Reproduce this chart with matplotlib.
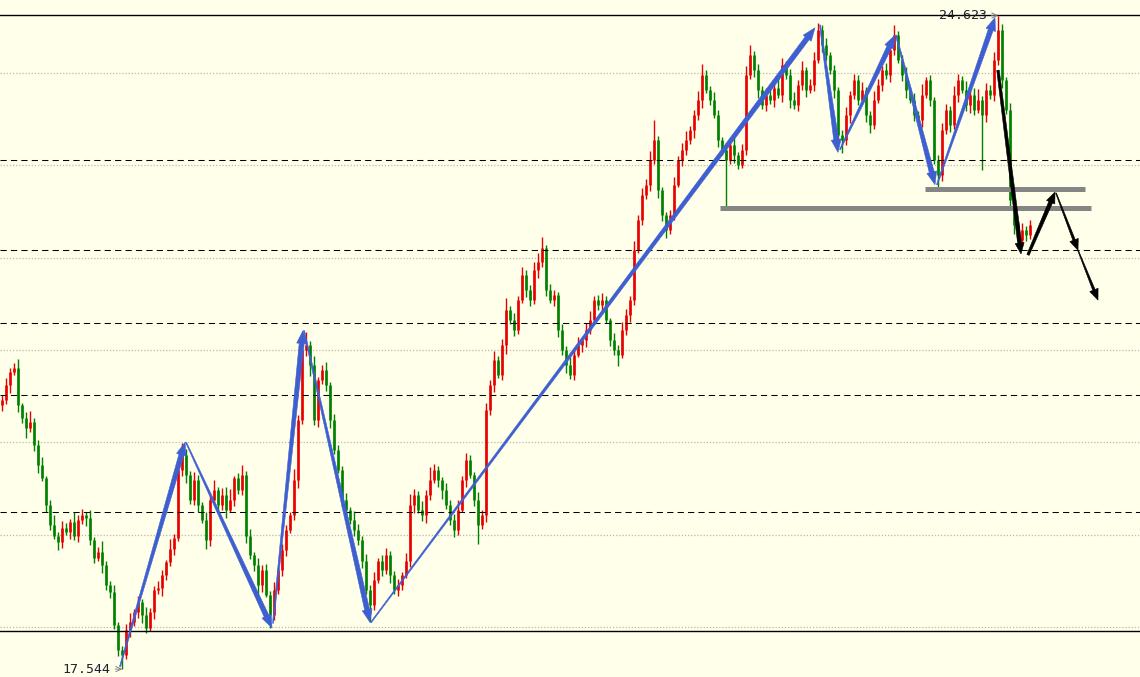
from __future__ import annotations

import matplotlib

matplotlib.use("Agg")
import matplotlib.pyplot as plt
import numpy as np
from matplotlib.patches import Polygon

# close prices, one bar each; open of a bar = previous close
first_open = 20.40
closes = [
    20.46, 20.62, 20.76, 20.80, 20.40, 20.26, 20.15, 20.22, 19.97, 19.75,
    19.61, 19.32, 19.10, 18.99, 18.92, 19.07, 19.03, 19.14, 18.99, 19.16,
    19.21, 19.18, 18.94, 18.75, 18.81, 18.67, 18.45, 18.38, 18.02, 17.75,
    17.70, 17.97, 18.05, 18.16, 18.27, 18.13, 17.99, 18.16, 18.40, 18.42,
    18.56, 18.70, 18.85, 18.96, 19.70, 19.86, 19.65, 19.37, 19.59, 19.32,
    19.16, 18.94, 19.37, 19.48, 19.32, 19.43, 19.27, 19.37, 19.61, 19.48,
    19.65, 18.99, 18.78, 18.67, 18.45, 18.62, 18.35, 18.13, 18.40, 18.62,
    18.83, 19.05, 19.21, 19.59, 20.24, 21.00, 21.05, 20.84, 20.24, 20.67,
    20.78, 20.62, 20.24, 19.92, 19.70, 19.37, 19.27, 19.16, 19.05, 18.94,
    18.72, 18.40, 18.24, 18.51, 18.72, 18.62, 18.78, 18.56, 18.40, 18.45,
    18.56, 18.72, 19.32, 19.43, 19.27, 19.21, 19.43, 19.59, 19.70, 19.59,
    19.48, 19.32, 19.16, 19.05, 19.27, 19.59, 19.81, 19.65, 19.37, 19.10,
    19.21, 20.35, 20.62, 20.89, 20.73, 21.05, 21.43, 21.32, 21.22, 21.54,
    21.81, 21.65, 21.54, 21.87, 21.95, 22.10, 21.65, 21.54, 21.60, 21.22,
    21.00, 20.84, 20.73, 20.95, 21.05, 21.11, 21.22, 21.32, 21.54, 21.49,
    21.54, 21.32, 21.11, 21.00, 20.95, 21.22, 21.38, 21.54, 22.08, 22.41,
    22.68, 22.79, 23.06, 23.27, 22.73, 22.46, 22.30, 22.46, 22.79, 23.06,
    23.17, 23.27, 23.38, 23.54, 23.71, 23.98, 23.82, 23.71, 23.54, 23.27,
    23.17, 23.06, 23.22, 23.11, 23.00, 23.17, 23.98, 24.19, 24.03, 23.82,
    23.65, 23.76, 23.71, 23.84, 23.76, 24.09, 23.98, 23.71, 23.65, 23.87,
    24.03, 23.82, 23.87, 24.14, 24.47, 24.30, 24.19, 24.03, 23.82, 23.33,
    23.27, 23.54, 23.76, 23.92, 23.71, 23.82, 23.54, 23.44, 23.71, 23.87,
    24.03, 23.98, 24.25, 24.41, 24.14, 23.98, 23.82, 23.71, 23.54, 23.49,
    23.76, 23.92, 23.71, 23.06, 22.89, 23.38, 23.60, 23.44, 23.76, 23.92,
    23.82, 23.65, 23.76, 23.60, 23.71, 23.54, 23.82, 23.76, 24.14, 24.47,
    23.92, 23.60, 22.62, 22.35, 22.19, 22.30, 22.25, 22.35,
]
# upper / lower shadow beyond the body, in hundredths
wick_up = [
    5, 8, 4, 6, 10, 3, 7, 12, 4, 6, 9, 3, 5, 11, 4, 8, 6, 3, 10, 5,
    7, 4, 9, 3, 6, 12, 4, 5, 8, 3, 4, 6, 10, 4, 7, 3, 9, 5, 4, 8,
    6, 3, 10, 5, 4, 13, 7, 4, 9, 6, 3, 8, 5, 11, 4, 7, 9, 12, 3, 6,
    10, 4, 7, 3, 8, 5, 6, 4, 9, 3, 7, 5, 4, 12, 6, 8, 14, 5, 10, 4,
    6, 9, 3, 7, 5, 4, 8, 3, 10, 6, 4, 7, 5, 9, 3, 6, 8, 4, 5, 7,
    4, 8, 12, 6, 4, 9, 5, 14, 7, 4, 3, 8, 5, 6, 10, 4, 7, 5, 3, 9,
    6, 8, 5, 10, 4, 7, 13, 5, 8, 4, 9, 6, 5, 8, 10, 12, 4, 7, 5, 3,
    6, 4, 8, 5, 9, 3, 7, 10, 5, 6, 8, 4, 3, 7, 5, 8, 6, 4, 10, 5,
    7, 6, 9, 22, 5, 4, 3, 6, 8, 4, 7, 10, 5, 6, 9, 12, 5, 4, 8, 6,
    4, 7, 5, 9, 3, 6, 10, 11, 5, 7, 4, 8, 6, 5, 9, 7, 4, 6, 8, 5,
    10, 4, 7, 9, 7, 5, 8, 4, 6, 3, 5, 9, 4, 7, 6, 8, 3, 5, 10, 6,
    5, 8, 7, 11, 4, 6, 9, 3, 7, 5, 12, 4, 6, 3, 5, 8, 6, 4, 10, 7,
    5, 9, 6, 8, 12, 4, 7, 5, 9, 15, 6, 4, 8, 3, 5, 7, 4, 6,
]
wick_dn = [
    6, 4, 9, 3, 7, 5, 10, 4, 6, 8, 3, 7, 5, 4, 9, 6, 3, 8, 5, 7,
    4, 9, 5, 6, 3, 8, 5, 7, 4, 6, 16, 5, 8, 4, 6, 9, 5, 3, 7, 4,
    8, 5, 4, 7, 3, 6, 9, 4, 5, 8, 3, 10, 6, 4, 7, 5, 9, 3, 6, 4,
    5, 8, 4, 6, 9, 7, 3, 14, 5, 4, 7, 6, 3, 5, 8, 4, 6, 12, 5, 7,
    4, 6, 8, 5, 3, 7, 9, 4, 6, 5, 8, 4, 19, 6, 3, 7, 5, 8, 4, 6,
    5, 3, 7, 9, 4, 6, 8, 5, 3, 7, 9, 4, 6, 8, 5, 3, 7, 4, 6, 20,
    4, 7, 5, 8, 3, 6, 9, 4, 7, 5, 3, 8, 6, 4, 9, 5, 7, 3, 6, 8,
    5, 9, 4, 6, 3, 7, 8, 5, 4, 6, 9, 3, 7, 5, 12, 4, 6, 8, 5, 3,
    6, 4, 7, 5, 8, 6, 9, 4, 5, 3, 7, 6, 4, 8, 5, 9, 4, 6, 3, 7,
    6, 50, 5, 8, 4, 3, 6, 5, 7, 9, 4, 6, 5, 8, 3, 7, 5, 9, 4, 6,
    5, 8, 4, 6, 3, 7, 5, 4, 9, 6, 14, 5, 8, 4, 6, 3, 7, 9, 5, 4,
    6, 4, 8, 5, 3, 7, 9, 4, 6, 5, 8, 3, 7, 5, 13, 6, 4, 8, 5, 7,
    4, 6, 8, 5, 3, 59, 7, 4, 6, 5, 8, 4, 6, 9, 5, 4, 7, 5,
]

grid_levels = [18, 19, 20, 21, 22, 23, 24]
dashed_levels = [23.06, 22.08, 21.29, 20.51, 19.24]
solid_levels = [24.623, 17.96]

# grey support zone bars: level, first bar, last bar
zone_levels = [22.74, 22.54]
zone_start = [230.75, 179.5]
zone_end = [270.75, 272.25]

# wave arrows as (bar, price) -> (bar, price)
blue_arrows = [
    ((29.5, 17.57), (45.75, 20.00)),
    ((46.0, 20.00), (67.5, 17.99)),
    ((67.75, 18.04), (75.25, 21.21)),
    ((75.5, 21.21), (92.0, 18.05)),
    ((92.25, 18.05), (203.25, 24.49)),
    ((204.5, 24.52), (209.0, 23.14)),
    ((209.5, 23.17), (223.25, 24.41)),
    ((223.5, 24.41), (233.25, 22.79)),
    ((233.75, 22.79), (248.25, 24.60)),
]
black_arrows = [
    ((249.0, 24.03), (254.75, 22.04)),
    ((256.5, 22.03), (263.25, 22.71)),
    ((263.5, 22.70), (269.0, 22.08)),
    ((269.0, 22.08), (274.0, 21.54)),
]

high_text = "24.623"
high_bar = 249
high_price = 24.623
low_text = "17.544"
low_bar = 30
low_price = 17.544

BG = "#ffffea"
UP = "#e80000"
DOWN = "#008000"
BLUE = "#3e5fd0"


def tapered_arrow(ax, start, end, color, w0=1.0, w1=5.0, head_len=13.0, head_w=10.0):
    # built in pixel space so the taper does not depend on axis scales
    tr = ax.transData
    p0 = np.array(tr.transform(start))
    p1 = np.array(tr.transform(end))
    d = p1 - p0
    u = d / np.hypot(*d)
    n = np.array([-u[1], u[0]])
    base = p1 - u * head_len
    pts = [
        p0 + n * w0 / 2,
        base + n * w1 / 2,
        base + n * head_w / 2,
        p1,
        base - n * head_w / 2,
        base - n * w1 / 2,
        p0 - n * w0 / 2,
    ]
    ax.add_patch(
        Polygon(tr.inverted().transform(pts), closed=True, facecolor=color,
                edgecolor=color, lw=0.4, zorder=6)
    )


def main() -> int:
    fig = plt.figure(figsize=(11.4, 6.77), dpi=100, facecolor=BG)
    ax = fig.add_axes([0, 0, 1, 1])
    ax.set_facecolor(BG)
    ax.set_xlim(-0.5, 284.5)
    ax.set_ylim(17.4583, 24.7906)
    ax.axis("off")

    for lvl in grid_levels:
        ax.axhline(lvl, color="#b8b8b0", lw=0.9, ls=(0, (1, 1.5)), zorder=1)

    opens = [first_open] + closes[:-1]
    xs, lows, highs, los, his, cols = [], [], [], [], [], []
    for i, (o, c, wu, wd) in enumerate(zip(opens, closes, wick_up, wick_dn)):
        xs.append(i)
        los.append(min(o, c))
        his.append(max(o, c))
        highs.append(max(o, c) + wu / 100)
        lows.append(min(o, c) - wd / 100)
        cols.append(UP if c >= o else DOWN)
    ax.vlines(xs, lows, highs, colors=cols, lw=1.0, zorder=2)
    ax.vlines(xs, los, his, colors=cols, lw=1.9, zorder=2)

    for lvl in dashed_levels:
        ax.axhline(lvl, color="black", lw=0.75, ls=(0, (6, 4)), zorder=3)
    for lvl in solid_levels:
        ax.axhline(lvl, color="black", lw=1.0, zorder=3)

    for lvl, x0, x1 in zip(zone_levels, zone_start, zone_end):
        ax.plot([x0, x1], [lvl, lvl], color="#858585", lw=3.6, solid_capstyle="butt", zorder=4)

    fig.canvas.draw()
    for start, end in blue_arrows:
        tapered_arrow(ax, start, end, BLUE)
    for k, (start, end) in enumerate(black_arrows):
        if k < 2:
            tapered_arrow(ax, start, end, "black", w0=2.5, w1=4.0, head_len=11, head_w=9)
        else:
            tapered_arrow(ax, start, end, "black", w0=0.8, w1=2.5, head_len=11, head_w=9)

    for text, bar, price in [(high_text, high_bar, high_price), (low_text, low_bar, low_price)]:
        ax.annotate(
            text, xy=(bar, price), xytext=(-8, 0), textcoords="offset points",
            ha="right", va="center", family="DejaVu Sans Mono", fontsize=9.5,
            color="#202030", zorder=7,
            arrowprops=dict(arrowstyle="->", color="#707070", lw=0.6,
                            shrinkA=1, shrinkB=0),
        )

    fig.savefig("out.png", dpi=100, facecolor=BG)
    plt.close(fig)
    return 0


if __name__ == "__main__":
    raise SystemExit(main())
